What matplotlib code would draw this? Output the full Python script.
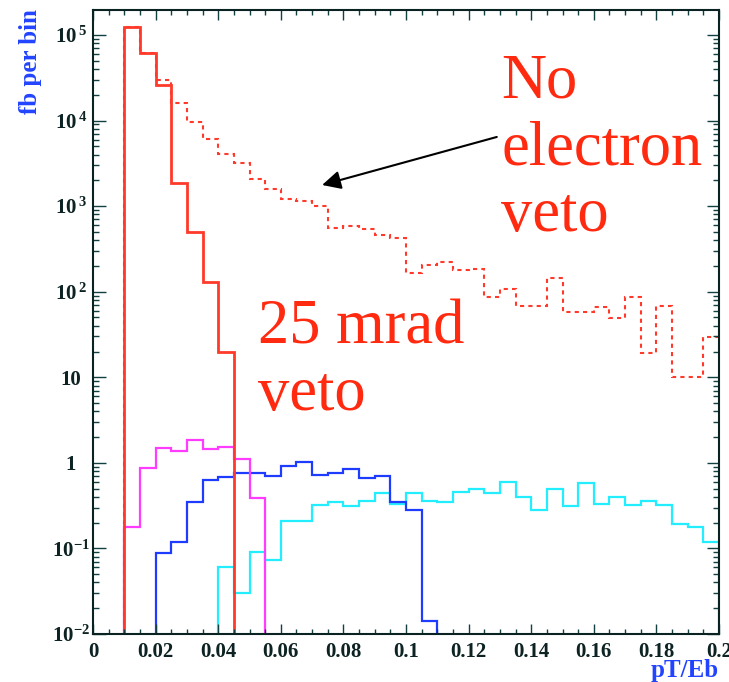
import numpy as np
import matplotlib
matplotlib.use("Agg")
import matplotlib.pyplot as plt
from matplotlib.ticker import LogLocator, MultipleLocator, NullFormatter

plt.rcParams["font.family"] = ["Liberation Serif", "DejaVu Serif"]
plt.rcParams["mathtext.fontset"] = "custom"
plt.rcParams["mathtext.rm"] = "Liberation Serif:bold"
plt.rcParams["mathtext.it"] = "Liberation Serif:bold"
plt.rcParams["mathtext.bf"] = "Liberation Serif:bold"

# ---- data: 40 bins of width 0.005 in pT/Eb from 0 to 0.2 (fb per bin) ----
bin_edges = np.round(np.arange(0.0, 0.2 + 1e-9, 0.005), 4)

no_electron_veto = [0, 0, 1.24e5, 6.2e4, 3.0e4, 1.6e4, 9.6e3, 6.1e3, 4.1e3, 3.2e3,
                    2.1e3, 1.6e3, 1.2e3, 1.15e3, 1.0e3, 560, 580, 540, 460, 425,
                    166, 206, 222, 178, 185, 87, 107, 68, 68, 144,
                    58, 58, 66, 49, 87, 19.3, 68, 10, 10, 29.5]

veto_25mrad = [0, 0, 1.24e5, 6.2e4, 2.6e4, 1.85e3, 500, 130, 20, 0,
               0, 0, 0, 0, 0, 0, 0, 0, 0, 0,
               0, 0, 0, 0, 0, 0, 0, 0, 0, 0,
               0, 0, 0, 0, 0, 0, 0, 0, 0, 0]

series_magenta = [0, 0, 0.18, 0.87, 1.49, 1.38, 1.85, 1.46, 1.53, 1.1,
                  0.39, 0, 0, 0, 0, 0, 0, 0, 0, 0,
                  0, 0, 0, 0, 0, 0, 0, 0, 0, 0,
                  0, 0, 0, 0, 0, 0, 0, 0, 0, 0]

series_blue = [0, 0, 0, 0, 0.089, 0.12, 0.35, 0.63, 0.69, 0.76,
               0.76, 0.71, 0.92, 1.02, 0.72, 0.76, 0.85, 0.67, 0.71, 0.35,
               0.28, 0.0143, 0, 0, 0, 0, 0, 0, 0, 0,
               0, 0, 0, 0, 0, 0, 0, 0, 0, 0]

series_cyan = [0, 0, 0, 0, 0, 0, 0, 0, 0.061, 0.030,
               0.092, 0.074, 0.21, 0.21, 0.32, 0.35, 0.31, 0.36, 0.45, 0.33,
               0.44, 0.36, 0.35, 0.46, 0.49, 0.45, 0.60, 0.40, 0.28, 0.50,
               0.31, 0.58, 0.33, 0.40, 0.32, 0.36, 0.32, 0.195, 0.18, 0.12]

x_tick_values = [0, 0.02, 0.04, 0.06, 0.08, 0.1, 0.12, 0.14, 0.16, 0.18, 0.2]
x_tick_labels = ["0", "0.02", "0.04", "0.06", "0.08", "0.1", "0.12", "0.14", "0.16", "0.18", "0.2"]
y_tick_values = [1e-2, 1e-1, 1, 10, 1e2, 1e3, 1e4, 1e5]
y_tick_labels = [r"$10^{-2}$", r"$10^{-1}$", "1", "10", r"$10^{\,2}$", r"$10^{\,3}$", r"$10^{\,4}$", r"$10^{\,5}$"]

# ---- figure ----
fig = plt.figure(figsize=(7.29, 6.82), dpi=100)
ax = fig.add_axes([93 / 729, 1 - 634 / 682, 626 / 729, 624 / 682])

FLOOR = 1e-9
def floor(v):
    v = np.asarray(v, dtype=float)
    return np.where(v > 0, v, FLOOR)

ax.stairs(floor(series_cyan), bin_edges, color="#22eeff", lw=1.6, baseline=FLOOR)
ax.stairs(floor(series_blue), bin_edges, color="#1e3cff", lw=1.6, baseline=FLOOR)
ax.stairs(floor(series_magenta), bin_edges, color="#ff3cff", lw=1.6, baseline=FLOOR)
ax.stairs(floor(no_electron_veto), bin_edges, color="#ff3a2a", lw=1.5,
          linestyle=(0, (2.0, 2.0)), baseline=None)
ax.stairs(floor(veto_25mrad), bin_edges, color="#ff3a2a", lw=2.0, baseline=FLOOR)

ax.set_yscale("log")
ax.set_xlim(0, 0.2)
ax.set_ylim(1e-2, 10 ** 5.292)

tick_color = "#124040"
label_color = "#0d2222"
ax.set_xticks(x_tick_values)
ax.set_xticklabels(x_tick_labels, fontsize=15, fontweight="bold", color=label_color)
ax.xaxis.set_minor_locator(MultipleLocator(0.005))
ax.set_yticks(y_tick_values)
ax.set_yticklabels(y_tick_labels, fontsize=15, fontweight="bold", color=label_color, ha="center")
ax.yaxis.set_minor_locator(LogLocator(base=10, subs=np.arange(2, 10), numticks=30))
ax.yaxis.set_minor_formatter(NullFormatter())

ax.tick_params(axis="x", which="major", direction="in", length=7.5, width=1.0,
               top=True, bottom=True, color=tick_color, pad=6)
ax.tick_params(axis="x", which="minor", direction="in", length=3.8, width=1.0,
               top=True, bottom=True, color=tick_color)
ax.tick_params(axis="y", which="major", direction="in", length=9, width=1.0,
               left=True, right=True, color=tick_color, pad=16)
ax.tick_params(axis="y", which="minor", direction="in", length=4.5, width=1.0,
               left=True, right=True, color=tick_color)
for sp in ax.spines.values():
    sp.set_linewidth(1.5)
    sp.set_color("#0a2222")

# axis titles
fig.text(30 / 729, 1 - 9 / 682, "fb per bin", rotation=90, ha="center", va="top",
         fontsize=18, fontweight="bold", color="#2244ff")
fig.text(719 / 729, 1 - 670 / 682, "pT/Eb", ha="right", va="center",
         fontsize=18, fontweight="bold", color="#2244ff")

# annotations (va='baseline' refers to the last line)
text_red = "#ff2a10"
fig.text(501 / 729, 1 - 231 / 682, "No\nelectron\nveto", ha="left", va="baseline",
         fontsize=45, color=text_red, linespacing=1.2)
fig.text(258 / 729, 1 - 410 / 682, "25 mrad\nveto", ha="left", va="baseline",
         fontsize=45, color=text_red, linespacing=1.2)

ax.annotate("", xy=(0.0732, 1766), xytext=(0.129, 6430), xycoords="data",
            arrowprops=dict(arrowstyle="-|>", color="black", lw=1.5, mutation_scale=28,
                            shrinkA=0, shrinkB=0))

fig.savefig("out.png", dpi=100)
